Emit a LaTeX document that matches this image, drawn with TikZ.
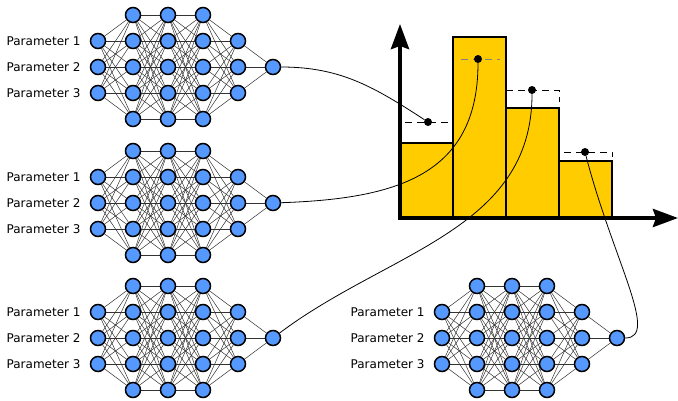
\documentclass[tikz,border=0pt]{standalone}
\usepackage{fontspec}
\setmainfont{DejaVu Sans}
\usetikzlibrary{positioning,arrows.meta,backgrounds}
\definecolor{neuronblue}{HTML}{5599FF}
\definecolor{baryellow}{HTML}{FFCC00}
\begin{document}
\begin{tikzpicture}[x=1pt,y=1pt,font=\fontsize{12}{14}\selectfont,
neuron/.style={circle,draw,fill=neuronblue,line width=1.5pt,minimum size=15pt,inner sep=0pt},
synapse/.style={draw=black!80,line width=0.5pt},
param/.style={inner sep=0pt},
bar/.style={draw,fill=baryellow,line width=1.6pt},
axis/.style={line width=4pt,-{Stealth[length=25pt,width=18pt,inset=3pt]}},
dot/.style={circle,fill,inner sep=0pt,minimum size=8pt},
guess/.style={line width=0.9pt,dash pattern=on 7pt off 5pt},
link/.style={line width=0.8pt}]
\useasboundingbox (0,0) rectangle (678,-401);
% four networks
\foreach \n/\dx/\dy in {a/0/0,b/0/136,c/0/271,d/344/271}{
  \foreach \l/\k in {1/3,2/5,3/5,4/5,5/3,6/1}
    \foreach \i in {1,...,\k}
      \node[neuron] (\n-\l-\i) at ({98+\dx+35*(\l-1)},{-(67+\dy+26*(\i-(\k+1)/2))}) {};
  \begin{pgfonlayer}{background}
  \foreach \l/\nl/\k/\m in {1/2/3/5,2/3/5/5,3/4/5/5,4/5/5/3,5/6/3/1}
    \foreach \i in {1,...,\k}
      \foreach \j in {1,...,\m}
        \draw[synapse] (\n-\l-\i) -- (\n-\nl-\j);
  \end{pgfonlayer}
  \foreach \i in {1,2,3}
    \node[param,left=9pt of \n-1-\i] (\n-t-\i) {Parameter \i};
}
% histogram
\draw[bar] (400,-218) rectangle (453,-143);
\draw[bar] (453,-218) rectangle (506,-37);
\draw[bar] (506,-218) rectangle (559,-108);
\draw[bar] (559,-218) rectangle (612,-161);
\draw[axis] (400,-220) -- (400,-24);
\draw[axis] (398,-218) -- (678,-218);
\draw[guess] (405,-122) -- (453,-122);
\draw[guess,draw=black!50] (461,-59) -- (500,-59);
\draw[guess] (506,-90) -- (559,-90) -- (559,-102);
\draw[guess] (564,-152) -- (612,-152) -- (612,-157);
\node[dot] (p1) at (428,-122) {};
\node[dot] (p2) at (478,-59) {};
\node[dot] (p3) at (532,-90) {};
\node[dot] (p4) at (585,-152) {};
% outputs to bins
\draw[link] (a-6-1) to[out=0,in=147] (p1);
\draw[link] (b-6-1) to[out=2,in=-90,looseness=1.2] (p2);
\draw[link] (c-6-1) to[out=37,in=-90] (p3);
\draw[link] (d-6-1) .. controls +(43,0) and +(28,-108) .. (p4);
\end{tikzpicture}
\end{document}
